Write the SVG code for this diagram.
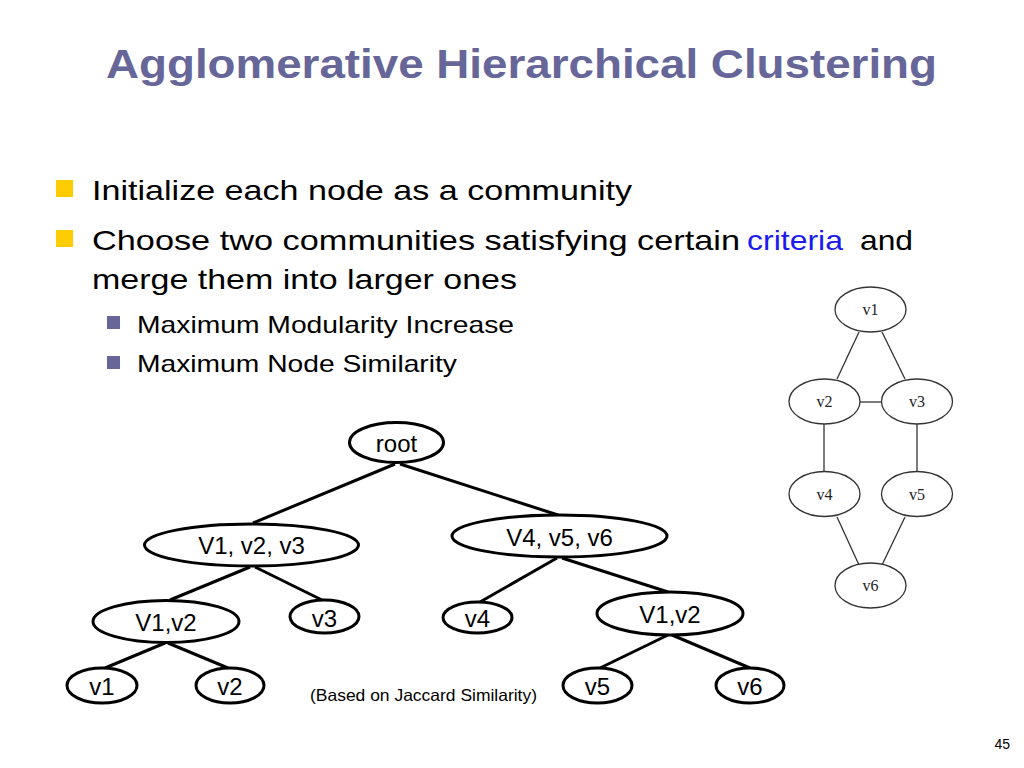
<svg xmlns="http://www.w3.org/2000/svg" width="1024" height="768" viewBox="0 0 1024 768">
<style>
.title{font-family:"Liberation Sans",Arial,sans-serif;font-weight:bold;font-size:40px;fill:#666699}
.b1{font-family:"Liberation Sans",Arial,sans-serif;font-size:28px;fill:#000}
.b2{font-family:"Liberation Sans",Arial,sans-serif;font-size:24px;fill:#000}
.tn ellipse{fill:#fff;stroke:#000;stroke-width:3}
.tn text{font-family:"Liberation Sans",Arial,sans-serif;font-size:24px;fill:#000;text-anchor:middle}
.tree line{stroke:#000;stroke-width:3}
.gn ellipse{fill:#fff;stroke:#333;stroke-width:1.3}
.gn text{font-family:"Liberation Serif","Times New Roman",serif;font-size:16px;fill:#222;text-anchor:middle}
.graph line{stroke:#333;stroke-width:1.3}
</style>
<rect width="1024" height="768" fill="#fff"/>
<text class="title" x="106" y="78" textLength="831" lengthAdjust="spacingAndGlyphs">Agglomerative Hierarchical Clustering</text>

<rect x="56" y="180" width="17" height="17" fill="#ffcc00"/>
<text class="b1" x="92" y="200" textLength="540" lengthAdjust="spacingAndGlyphs">Initialize each node as a community</text>
<rect x="56" y="230" width="17" height="17" fill="#ffcc00"/>
<text class="b1" x="92" y="250" textLength="648" lengthAdjust="spacingAndGlyphs">Choose two communities satisfying certain</text>
<text class="b1" x="747" y="250" textLength="96" lengthAdjust="spacingAndGlyphs" style="fill:#1a1aee">criteria</text>
<text class="b1" x="860" y="250" textLength="53" lengthAdjust="spacingAndGlyphs">and</text>
<text class="b1" x="92" y="289" textLength="425" lengthAdjust="spacingAndGlyphs">merge them into larger ones</text>
<rect x="107" y="316" width="13" height="13" fill="#666699"/>
<text class="b2" x="137" y="333" textLength="377" lengthAdjust="spacingAndGlyphs">Maximum Modularity Increase</text>
<rect x="107" y="356" width="13" height="13" fill="#666699"/>
<text class="b2" x="137" y="372" textLength="320" lengthAdjust="spacingAndGlyphs">Maximum Node Similarity</text>

<g id="tree-edges" class="tree">
<line x1="395" y1="464" x2="253" y2="523"/>
<line x1="400" y1="464" x2="558" y2="515"/>
<line x1="250" y1="567" x2="170" y2="600"/>
<line x1="255" y1="567" x2="322" y2="600"/>
<line x1="165" y1="643" x2="105" y2="668"/>
<line x1="168" y1="643" x2="228" y2="668"/>
<line x1="557" y1="558" x2="480" y2="602"/>
<line x1="562" y1="558" x2="668" y2="592"/>
<line x1="668" y1="635" x2="600" y2="668"/>
<line x1="672" y1="635" x2="750" y2="668"/>
</g>

<g id="t-root" class="tn"><ellipse cx="396.5" cy="442.5" rx="47" ry="20"/><text x="396.5" y="452">root</text></g>
<g id="t-v123" class="tn"><ellipse cx="251.5" cy="545" rx="107" ry="21"/><text x="251.5" y="554">V1, v2, v3</text></g>
<g id="t-v456" class="tn"><ellipse cx="559.5" cy="536" rx="107.5" ry="21"/><text x="559.5" y="546">V4, v5, v6</text></g>
<g id="t-v12a" class="tn"><ellipse cx="166" cy="621.5" rx="73" ry="21"/><text x="166" y="631">V1,v2</text></g>
<g id="t-v3" class="tn"><ellipse cx="324.5" cy="616.5" rx="34.5" ry="16.5"/><text x="324.5" y="627">v3</text></g>
<g id="t-v4" class="tn"><ellipse cx="477.5" cy="617.5" rx="34.5" ry="15.5"/><text x="477.5" y="627">v4</text></g>
<g id="t-v12b" class="tn"><ellipse cx="670" cy="613.5" rx="73" ry="21.5"/><text x="670" y="623">V1,v2</text></g>
<g id="t-v1" class="tn"><ellipse cx="102" cy="685.5" rx="35" ry="17.5"/><text x="102" y="695">v1</text></g>
<g id="t-v2" class="tn"><ellipse cx="230" cy="685.5" rx="34" ry="17.5"/><text x="230" y="695">v2</text></g>
<g id="t-v5" class="tn"><ellipse cx="597.5" cy="685.5" rx="34.5" ry="17.5"/><text x="597.5" y="695">v5</text></g>
<g id="t-v6" class="tn"><ellipse cx="750" cy="685.5" rx="34" ry="17.5"/><text x="750" y="695">v6</text></g>

<text x="310" y="701" font-family="Liberation Sans, Arial, sans-serif" font-size="16.5" textLength="227" lengthAdjust="spacingAndGlyphs">(Based on Jaccard Similarity)</text>

<g id="graph-edges" class="graph">
<line x1="859" y1="332" x2="837" y2="379"/>
<line x1="882" y1="332" x2="905" y2="379"/>
<line x1="860" y1="402" x2="882" y2="402"/>
<line x1="824" y1="424" x2="824" y2="471"/>
<line x1="917" y1="424" x2="917" y2="471"/>
<line x1="837" y1="517" x2="859" y2="565"/>
<line x1="905" y1="517" x2="882" y2="565"/>
</g>
<g id="g-v1" class="gn"><ellipse cx="870.5" cy="309.5" rx="35.5" ry="22.5"/><text x="870.5" y="315">v1</text></g>
<g id="g-v2" class="gn"><ellipse cx="824.5" cy="401.5" rx="35.5" ry="22.5"/><text x="824.5" y="407">v2</text></g>
<g id="g-v3" class="gn"><ellipse cx="917" cy="401.5" rx="35.5" ry="22.5"/><text x="917" y="407">v3</text></g>
<g id="g-v4" class="gn"><ellipse cx="824.5" cy="494" rx="35.5" ry="22.5"/><text x="824.5" y="499.5">v4</text></g>
<g id="g-v5" class="gn"><ellipse cx="917" cy="494" rx="35.5" ry="22.5"/><text x="917" y="499.5">v5</text></g>
<g id="g-v6" class="gn"><ellipse cx="870.5" cy="585.5" rx="35.5" ry="22.5"/><text x="870.5" y="591">v6</text></g>

<text x="1010" y="749" font-family="Liberation Sans, Arial, sans-serif" font-size="14" text-anchor="end">45</text>
</svg>
